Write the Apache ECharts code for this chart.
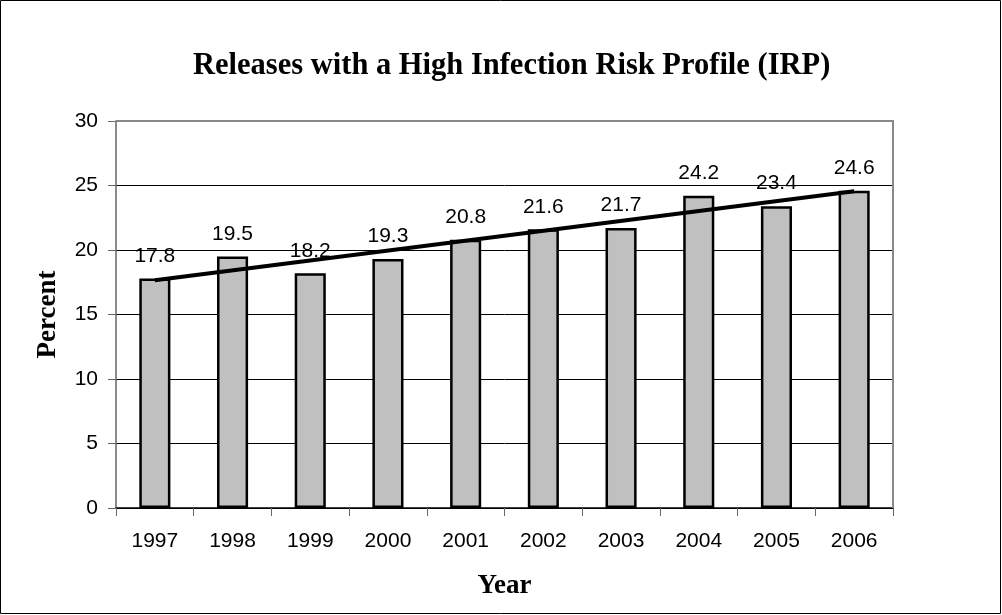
<!DOCTYPE html>
<html><head><meta charset="utf-8">
<script src="https://cdn.jsdelivr.net/npm/echarts@6/dist/echarts.min.js"></script>
<style>html,body{margin:0;padding:0;background:#fff}#c{width:1002px;height:615px}</style>
</head><body><div id="c"></div>
<script>
const categories = ['1997','1998','1999','2000','2001','2002','2003','2004','2005','2006'];
const percentValues = [17.8, 19.5, 18.2, 19.3, 20.8, 21.6, 21.7, 24.2, 23.4, 24.6];
const trendValues = [17.66, null, null, null, null, null, null, null, null, 24.56];
const yTicks = [0, 5, 10, 15, 20, 25, 30];

const chart = echarts.init(document.getElementById('c'));
chart.setOption({
  backgroundColor: '#fff',
  animation: false,
  title: {
    text: 'Releases with a High Infection Risk Profile (IRP)',
    left: 188, top: 46,
    textStyle: { fontFamily: 'Liberation Serif', fontWeight: 'bold', fontSize: 30.5, color: '#000' }
  },
  graphic: [{
    type: 'rect', shape: { x: 0.5, y: 0.5, width: 1000, height: 613 },
    style: { fill: 'none', stroke: '#000', lineWidth: 1 }, silent: true
  }, {
    type: 'polyline', shape: { points: [[116, 121], [893, 121], [893, 508]] },
    style: { fill: 'none', stroke: '#888', lineWidth: 2 }, silent: true, z: 100
  }],
  grid: { left: 116, top: 121, right: 109, bottom: 107 },
  xAxis: {
    type: 'category', data: categories,
    name: 'Year', nameLocation: 'middle', nameGap: 65,
    nameTextStyle: { fontFamily: 'Liberation Serif', fontWeight: 'bold', fontSize: 27, color: '#000' },
    axisLine: { lineStyle: { color: '#000', width: 1.5 } },
    axisTick: { show: true, alignWithLabel: false, length: 8, lineStyle: { color: '#666' } },
    axisLabel: { fontFamily: 'Liberation Sans', fontSize: 21, color: '#000', margin: 23 }
  },
  yAxis: {
    type: 'value', min: yTicks[0], max: yTicks[yTicks.length - 1], interval: 5,
    name: 'Percent', nameLocation: 'middle', nameGap: 54, nameRotate: 90,
    nameTextStyle: { fontFamily: 'Liberation Serif', fontWeight: 'bold', fontSize: 27, color: '#000' },
    axisLine: { show: true, lineStyle: { color: '#666', width: 1.5 } },
    axisTick: { show: true, length: 8, lineStyle: { color: '#666' } },
    axisLabel: { fontFamily: 'Liberation Sans', fontSize: 21, color: '#000', margin: 18 },
    splitLine: { lineStyle: { color: '#000', width: 1 } }
  },
  series: [{
    type: 'bar', data: percentValues, barWidth: '40%',
    itemStyle: { color: '#c0c0c0', borderColor: '#000', borderWidth: 2.5 },
    label: { show: true, position: 'top', distance: 12, fontFamily: 'Liberation Sans', fontSize: 21, color: '#000' },
    z: 2
  }, {
    type: 'line', data: trendValues, connectNulls: true, symbol: 'none',
    lineStyle: { color: '#000', width: 4 }, z: 3
  }]
});
</script></body></html>
